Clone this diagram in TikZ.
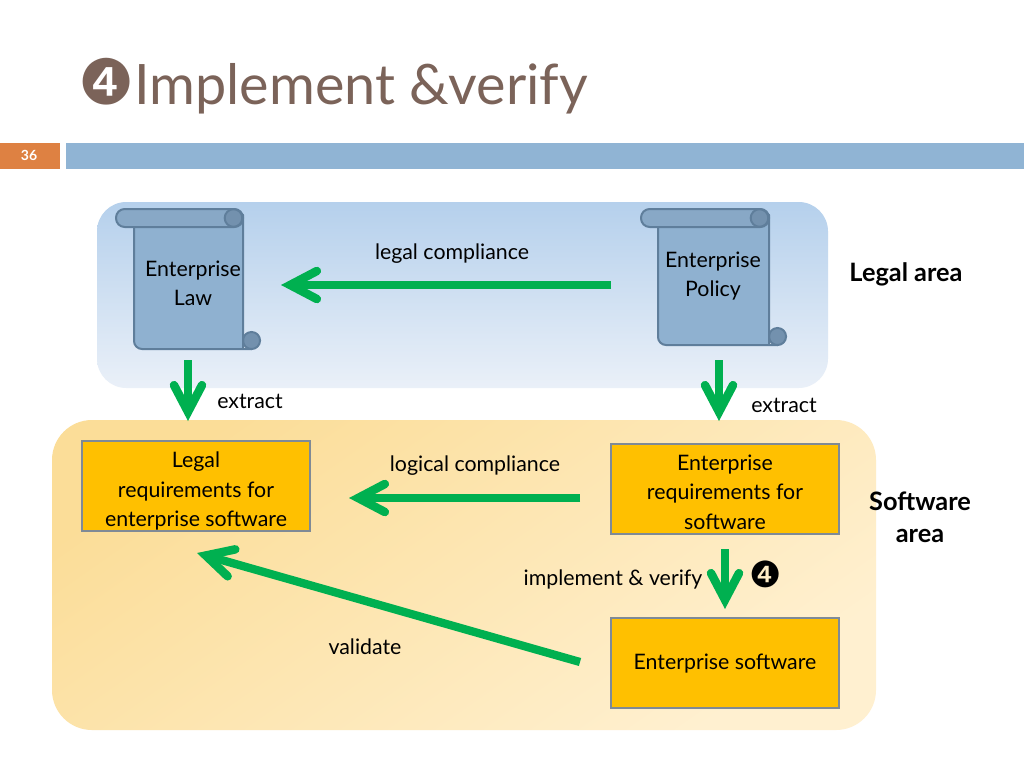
\documentclass[tikz,border=0pt]{standalone}
\usepackage{fontspec}
\setmainfont{Lato}
\newfontfamily\dingfont{DejaVu Sans}
\usetikzlibrary{arrows.meta,calc}
\definecolor{titlecol}{HTML}{7B6359}
\definecolor{barblue}{HTML}{90B4D4}
\definecolor{barorange}{HTML}{DE8142}
\definecolor{scrollfill}{HTML}{8FB1D0}
\definecolor{scrolltop}{HTML}{88A8C6}
\definecolor{scrollroll}{HTML}{7391AE}
\definecolor{scrollline}{HTML}{5F7E9B}
\definecolor{boxfill}{HTML}{FFC000}
\definecolor{boxline}{HTML}{7F8A96}
\definecolor{arrowgreen}{HTML}{00B050}
\tikzset{
  x=0.75pt,y=-0.75pt,
  flow/.style={arrowgreen,line width=6.2pt,-{Straight Barb[line cap=round,line join=miter,length=20pt,width=21pt,line width=6.4pt]}},
  reqbox/.style={draw=boxline,line width=1.4pt,fill=boxfill,minimum width=171pt,inner sep=0pt},
  lbl/.style={text=black,font=\fontsize{16}{22}\selectfont,align=center,inner sep=0pt},
  area/.style={text=black,font=\bfseries\fontsize{19}{24}\selectfont,align=center,inner sep=0pt},
  scrollbody/.style={draw=scrollline,line width=1.5pt,fill=scrollfill,line join=round},
  scrollcurl/.style={draw=scrollline,line width=1.5pt,fill=scrollroll,line join=round},
}
\newcommand{\scrollshape}[5]{% roll left, body left, right, top, bottom
  \draw[scrollcurl] (#3+8.5,#5-8.5) circle[radius=6.4pt];
  \draw[scrollbody,rounded corners=6pt] (#2,#4+10) -- (#2,#5) -- (#3-8,#5) [sharp corners] -- (#3+8.5,#5)
     -- (#3,#5) -- (#3,#4+6) -- cycle;
  \draw[scrollbody,fill=scrolltop,rounded corners=6.5pt] (#1,#4) rectangle (#3,#4+18);
  \draw[scrollcurl] (#3-9.5,#4+9) circle[radius=6.6pt];
}
\begin{document}
\begin{tikzpicture}
\useasboundingbox (0,0) rectangle (1024,768);
\fill[white] (0,0) rectangle (1024,768);
% title
\node[anchor=center,inner sep=0pt,text=titlecol,font=\dingfont\fontsize{47}{47}\selectfont] (num) at (107,82) {❹};
\node[anchor=base west,inner sep=0pt,text=titlecol,font=\fontsize{41.8}{44}\selectfont] (title) at (134,104) {Implement \&verify};
% bars
\fill[barorange] (0,143) rectangle (60,169);
\fill[barblue] (66,143) rectangle (1024,169);
\node[text=white,font=\bfseries\fontsize{10.5}{12}\selectfont,inner sep=0pt] (page) at (29,155) {36};
% regions
\shade[top color={rgb,255:red,181;green,208;blue,236},bottom color={rgb,255:red,234;green,240;blue,248},rounded corners=22pt] (97,202) rectangle (828,388);
\shade[left color={rgb,255:red,251;green,221;blue,152},right color={rgb,255:red,255;green,240;blue,208},shading angle=35,rounded corners=30pt] (52,420) rectangle (876,730);
% scrolls
\scrollshape{116}{134}{243}{209}{349}
\scrollshape{641}{658}{769}{209}{345}
\node[lbl] (law) at (193,283) {Enterprise\\Law};
\node[lbl] (policy) at (713,276) {Enterprise\\Policy};
\coordinate (lawb) at (188,360);
\coordinate (polb) at (719,360);
% boxes
\node[reqbox,minimum height=67.5pt] (legalreq) at (196,486) {};
\node[reqbox,minimum height=68pt] (entreq) at (725,489) {};
\node[reqbox,minimum height=68pt] (entsw) at (725,663) {};
\node[lbl] (legalreqt) at (196,491) {Legal\\requirements for\\enterprise software};
\node[lbl] (entreqt) at (725,492) {Enterprise\\requirements for\\software};
\node[lbl] (entswt) at (725,664) {Enterprise software};
% arrow ends
\coordinate (lc1) at (611,285); \coordinate (lc2) at (281,285);
\coordinate (lw2) at (188,421);
\coordinate (pl2) at (719,421);
\coordinate (lg1) at (580,498); \coordinate (lg2) at (349,498);
\coordinate (iv1) at (725,549); \coordinate (iv2) at (725,609);
\coordinate (va1) at (580,662); \coordinate (va2) at (197,553);
\draw[flow] (lc1) -- (lc2);
\draw[flow] (lawb) -- (lw2);
\draw[flow] (polb) -- (pl2);
\draw[flow] (lg1) -- (lg2);
\draw[flow] (iv1) -- (iv2);
\draw[flow] (va1) -- (va2);
% labels
\node[lbl] (t1) at (452,254) {legal compliance};
\node[lbl] (t2) at (250,401) {extract};
\node[lbl] (t3) at (784,405) {extract};
\node[lbl] (t4) at (475,466) {logical compliance};
\node[lbl] (t5) at (613,579) {implement \& verify};
\node[lbl] (t6) at (365,647) {validate};
\node[text=black,inner sep=0pt,font=\dingfont\fontsize{27}{27}\selectfont] (n4) at (766,574) {❹};
\node[area] (a1) at (906,274) {Legal area};
\node[area] (a2) at (920,517) {Software\\area};
\end{tikzpicture}
\end{document}
